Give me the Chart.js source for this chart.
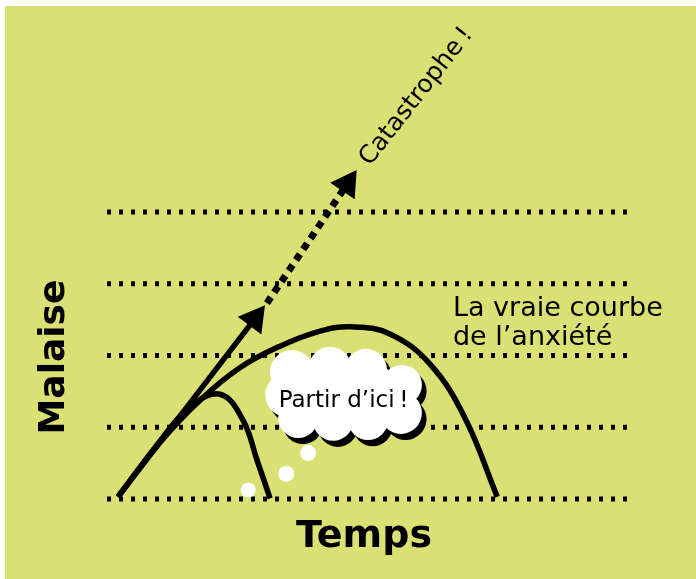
<!DOCTYPE html>
<html>
<head>
<meta charset="utf-8">
<script src="https://cdn.jsdelivr.net/npm/chart.js"></script>
<style>
  body { margin: 0; background: #ffffff; }
  #box { position: absolute; left: 5px; top: 6px; width: 691px; height: 573px; background: #dbe074; }
</style>
</head>
<body>
<div id="box"><canvas id="chart"></canvas></div>
<script>
// malaise levels (dotted lines) and their time span
var levels = [0, 1, 2, 3, 4]
var levelSpan = [0, 10]

// la vraie courbe de l'anxiete
var curveX = [0.21, 1.02, 1.79, 2.55, 3.32, 4.09, 4.70, 5.43, 6.20, 6.87, 7.49]
var curveY = [0.03, 0.79, 1.38, 1.83, 2.13, 2.34, 2.40, 2.30, 1.88, 1.13, 0.03]

// small curve (fuite)
var smallX = [0.21, 1.02, 1.59, 2.17, 2.61, 2.88, 3.13]
var smallY = [0.03, 0.81, 1.28, 1.46, 1.10, 0.54, 0.01]

// straight arrow then dotted arrow towards "Catastrophe"
var arrowX = [0.21, 2.835]
var arrowY = [0.03, 2.51]
var dashX = [3.07, 4.61]
var dashY = [2.73, 4.39]

// cloud "Partir d'ici"
var cloudX = [3.55, 4.28, 4.97, 5.66, 5.64, 5.01, 4.34, 3.67, 3.46, 4.05, 5.09, 4.57]
var cloudY = [1.77, 1.83, 1.80, 1.59, 1.20, 1.10, 1.09, 1.13, 1.45, 1.50, 1.45, 1.45]
var cloudR = [22, 21, 21, 20, 21, 20, 20, 20, 22, 30, 30, 36]
var puffX = [2.71, 3.44, 3.86]
var puffY = [0.125, 0.35, 0.64]
var puffR = [7.5, 8, 8]

var shadowDx = 0.09
var shadowDy = -0.085

function pts(xs, ys) {
    return xs.map(function (v, i) { return { x: v, y: ys[i] } })
}
function bubbles(xs, ys, rs, dx, dy) {
    return xs.map(function (v, i) { return { x: v + dx, y: ys[i] + dy, r: rs[i] } })
}

var datasets = []
levels.forEach(function (l) {
    datasets.push({
        type: 'scatter', showLine: true, order: 50,
        data: pts(levelSpan, [l, l]),
        borderColor: '#000', borderWidth: 5, borderDash: [4, 8], borderCapStyle: 'butt',
        pointRadius: 0
    })
})
datasets.push({
    type: 'scatter', showLine: true, order: 40, tension: 0.4,
    data: pts(curveX, curveY), borderColor: '#000', borderWidth: 5.5, pointRadius: 0
})
datasets.push({
    type: 'scatter', showLine: true, order: 40, tension: 0.4,
    data: pts(smallX, smallY), borderColor: '#000', borderWidth: 5.5, pointRadius: 0
})
datasets.push({
    type: 'scatter', showLine: true, order: 40,
    data: pts(arrowX, arrowY), borderColor: '#000', borderWidth: 5.5,
    pointRadius: [0, 17], pointStyle: 'triangle', rotation: 37,
    pointBackgroundColor: '#000', pointBorderWidth: 0
})
datasets.push({
    type: 'scatter', showLine: true, order: 40,
    data: pts(dashX, dashY), borderColor: '#000', borderWidth: 7, borderDash: [7, 6],
    pointRadius: [0, 17], pointStyle: 'triangle', rotation: 34,
    pointBackgroundColor: '#000', pointBorderWidth: 0
})
datasets.push({
    type: 'bubble', order: 30,
    data: bubbles(cloudX, cloudY, cloudR, shadowDx, shadowDy),
    backgroundColor: '#000', borderWidth: 0
})
datasets.push({
    type: 'bubble', order: 20,
    data: bubbles(cloudX, cloudY, cloudR, 0, 0),
    backgroundColor: '#fff', borderWidth: 0
})
datasets.push({
    type: 'bubble', order: 10,
    data: bubbles(puffX, puffY, puffR, 0, 0),
    backgroundColor: '#fff', borderWidth: 0
})

var texts = {
    id: 'texts',
    afterDatasetsDraw: function (chart) {
        var ctx = chart.ctx
        var x = chart.scales.x, y = chart.scales.y
        ctx.save()
        ctx.fillStyle = '#000'
        ctx.textBaseline = 'alphabetic'

        ctx.font = '27px "DejaVu Sans"'
        ctx.textAlign = 'left'
        var nx = x.getPixelForValue(6.64), ny = y.getPixelForValue(2.55)
        ctx.fillText('La vraie courbe', nx, ny)
        ctx.fillText('de l\u2019anxiété', nx, ny + 29)

        ctx.font = '25px "DejaVu Sans"'
        ctx.save()
        ctx.translate(x.getPixelForValue(5.05), y.getPixelForValue(4.63))
        ctx.rotate(-52 * Math.PI / 180)
        ctx.fillText('Catastrophe\u2009!', 0, 0)
        ctx.restore()

        ctx.font = '23px "DejaVu Sans"'
        ctx.textAlign = 'center'
        ctx.fillText('Partir d\u2019ici\u2009!', x.getPixelForValue(4.54), y.getPixelForValue(1.28))

        ctx.font = 'bold 38px "DejaVu Sans"'
        ctx.fillText('Temps', 359, 541)
        ctx.save()
        ctx.translate(59, 351)
        ctx.rotate(-Math.PI / 2)
        ctx.font = 'bold 36px "DejaVu Sans"'
        ctx.fillText('Malaise', 0, 0)
        ctx.restore()

        ctx.restore()
    }
}

new Chart(document.getElementById('chart').getContext('2d'), {
    type: 'scatter',
    data: { datasets: datasets },
    options: {
        responsive: true,
        maintainAspectRatio: false,
        animation: false,
        events: [],
        layout: { padding: 0, autoPadding: false },
        clip: false,
        plugins: { legend: { display: false }, tooltip: { enabled: false } },
        scales: {
            x: { type: 'linear', min: -1.958, max: 11.305, display: false },
            y: { type: 'linear', min: -1.115, max: 6.871, display: false }
        }
    },
    plugins: [texts]
})
</script>
</body>
</html>
